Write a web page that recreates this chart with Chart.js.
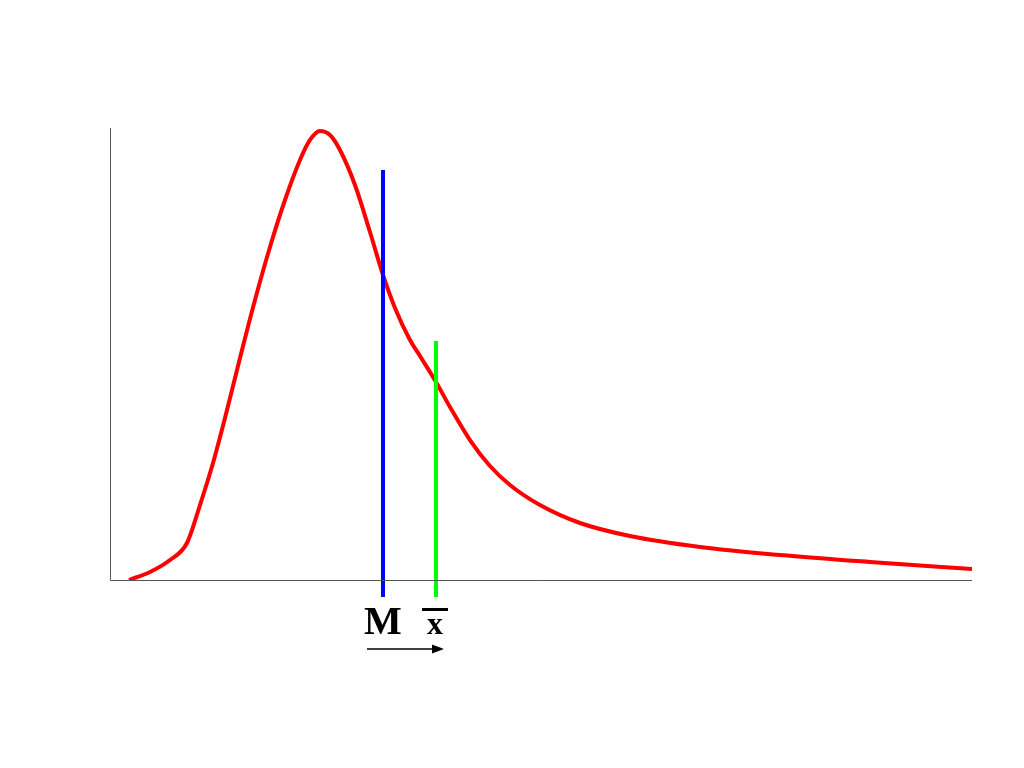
<!DOCTYPE html>
<html>
<head>
<meta charset="utf-8">
<script src="https://cdn.jsdelivr.net/npm/chart.js@4"></script>
<style>
  html, body { margin: 0; padding: 0; background: #fff; }
  #wrap { width: 1024px; height: 768px; }
</style>
</head>
<body>
<div id="wrap"><canvas id="skewChart" width="1024" height="768"></canvas></div>
<script>
// right-skewed distribution curve
const curveX = [2.2, 4.64, 6.96, 8.93, 10.44, 11.95, 13.34, 15.08, 16.82, 18.56, 20.3, 22.04, 23.2, 24.36,
    25.52, 26.68, 28.42, 30.16, 31.67, 33.06, 34.8, 35.96, 37.82, 39.44, 41.76, 44.08, 46.4, 49.88,
    54.52, 60.32, 68.45, 77.73, 88.17, 100];
const curveY = [0, 1.77, 4.42, 8.19, 16.59, 25.88, 35.84, 49.12, 61.95, 73.67, 84.07, 92.92, 97.35, 99.34,
    98.45, 95.13, 87.39, 76.99, 67.48, 60.18, 53.1, 49.56, 43.81, 38.27, 30.97, 25.22, 21.02, 16.59,
    12.61, 9.73, 7.3, 5.53, 3.98, 2.43];

// median and mean markers
const medianX = 31.67;
const medianTop = 90.7;
const meanX = 37.82;
const meanTop = 52.9;
const markerBottom = -3.76;

const curvePoints = curveX.map((x, i) => ({ x: x, y: curveY[i] }));

const labelsPlugin = {
    id: "axesAndLabels",
    afterDraw(chart) {
        const ctx = chart.ctx;
        const xs = chart.scales.x;
        const ys = chart.scales.y;
        const area = chart.chartArea;
        const y0 = ys.getPixelForValue(0);

        ctx.save();
        // axes
        ctx.strokeStyle = "#555";
        ctx.lineWidth = 1;
        ctx.beginPath();
        ctx.moveTo(area.left + 0.5, area.top);
        ctx.lineTo(area.left + 0.5, y0 + 0.5);
        ctx.lineTo(area.right, y0 + 0.5);
        ctx.stroke();

        // M label
        const mx = xs.getPixelForValue(medianX);
        const ax = xs.getPixelForValue(meanX);
        ctx.fillStyle = "#000";
        ctx.textAlign = "center";
        ctx.textBaseline = "alphabetic";
        ctx.font = "bold 40px 'Liberation Serif', 'DejaVu Serif', serif";
        ctx.fillText("M", mx, 634);

        // x-bar label
        ctx.font = "bold 32px 'Liberation Serif', 'DejaVu Serif', serif";
        ctx.fillText("x", ax - 1, 634);
        ctx.fillRect(ax - 14, 608, 26, 3);

        // arrow from median toward mean
        ctx.strokeStyle = "#000";
        ctx.lineWidth = 1.5;
        ctx.beginPath();
        ctx.moveTo(mx - 16, 649);
        ctx.lineTo(ax + 2, 649);
        ctx.stroke();
        ctx.beginPath();
        ctx.moveTo(ax + 8, 649);
        ctx.lineTo(ax - 4, 644.5);
        ctx.lineTo(ax - 4, 653.5);
        ctx.closePath();
        ctx.fill();
        ctx.restore();
    }
};

new Chart(document.getElementById("skewChart"), {
    type: "scatter",
    data: {
        datasets: [
            {
                data: curvePoints,
                showLine: true,
                borderColor: "#ff0000",
                borderWidth: 4,
                pointRadius: 0,
                cubicInterpolationMode: "monotone",
                order: 3
            },
            {
                data: [{ x: medianX, y: markerBottom }, { x: medianX, y: medianTop }],
                showLine: true,
                borderColor: "#0000ff",
                borderWidth: 4,
                pointRadius: 0,
                clip: false,
                order: 1
            },
            {
                data: [{ x: meanX, y: markerBottom }, { x: meanX, y: meanTop }],
                showLine: true,
                borderColor: "#00ff00",
                borderWidth: 4,
                pointRadius: 0,
                clip: false,
                order: 2
            }
        ]
    },
    options: {
        responsive: false,
        animation: false,
        layout: {
            padding: { left: 110, right: 52, top: 128, bottom: 188 }
        },
        scales: {
            x: { type: "linear", min: 0, max: 100, display: false },
            y: { type: "linear", min: 0, max: 100, display: false }
        },
        plugins: {
            legend: { display: false },
            tooltip: { enabled: false }
        }
    },
    plugins: [labelsPlugin]
});
</script>
</body>
</html>
